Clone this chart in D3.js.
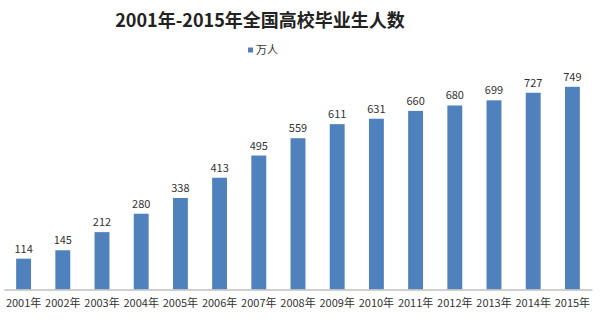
<!DOCTYPE html>
<html><head><meta charset="utf-8">
<script src="https://cdn.jsdelivr.net/npm/d3@7"></script>
<style>html,body{margin:0;padding:0;background:#fff;}</style>
</head><body>
<svg id="chart" width="600" height="332"></svg>
<script>
const categories = ["2001年","2002年","2003年","2004年","2005年","2006年","2007年","2008年","2009年","2010年","2011年","2012年","2013年","2014年","2015年"];
const values = [114,145,212,280,338,413,495,559,611,631,660,680,699,727,749];
const seriesName = "万人";
const title = "2001年-2015年全国高校毕业生人数";

const svg = d3.select("#chart");
const font = "'Noto Sans CJK SC','Liberation Sans',sans-serif";
const x = d3.scaleBand().domain(categories).range([4, 592]).paddingInner(0.62).paddingOuter(0.31);
const y = d3.scaleLinear().domain([0, 800]).range([289.5, 73]);

svg.append("text").attr("x", 260).attr("y", 27).attr("text-anchor", "middle")
  .attr("font-family", font).attr("font-weight", "bold").attr("font-size", 18).attr("fill", "#222").text(title);

const lg = svg.append("g");
lg.append("rect").attr("x", 248).attr("y", 47.5).attr("width", 5).attr("height", 5).attr("fill", "#4F81BD");
lg.append("text").attr("x", 256).attr("y", 54).attr("font-family", font).attr("font-size", 11).attr("fill", "#333").text(seriesName);

svg.selectAll("rect.bar").data(values).enter().append("rect").attr("class", "bar")
  .attr("x", (d, i) => x(categories[i])).attr("width", x.bandwidth())
  .attr("y", d => y(d)).attr("height", d => y(0) - y(d)).attr("fill", "#4F81BD");

svg.selectAll("text.val").data(values).enter().append("text").attr("class", "val")
  .attr("x", (d, i) => x(categories[i]) + x.bandwidth() / 2).attr("y", d => y(d) - 6)
  .attr("text-anchor", "middle").attr("font-family", font).attr("font-size", 11).attr("fill", "#333").text(d => d);

const ax = svg.append("g").attr("transform", `translate(0,${y(0)})`)
  .call(d3.axisBottom(x).tickSize(0).tickPadding(10));
ax.select(".domain").attr("stroke", "#bfbfbf").attr("stroke-width", 1.5);
ax.selectAll("text").attr("font-family", font).attr("font-size", 11).attr("fill", "#333");
</script>
</body></html>
